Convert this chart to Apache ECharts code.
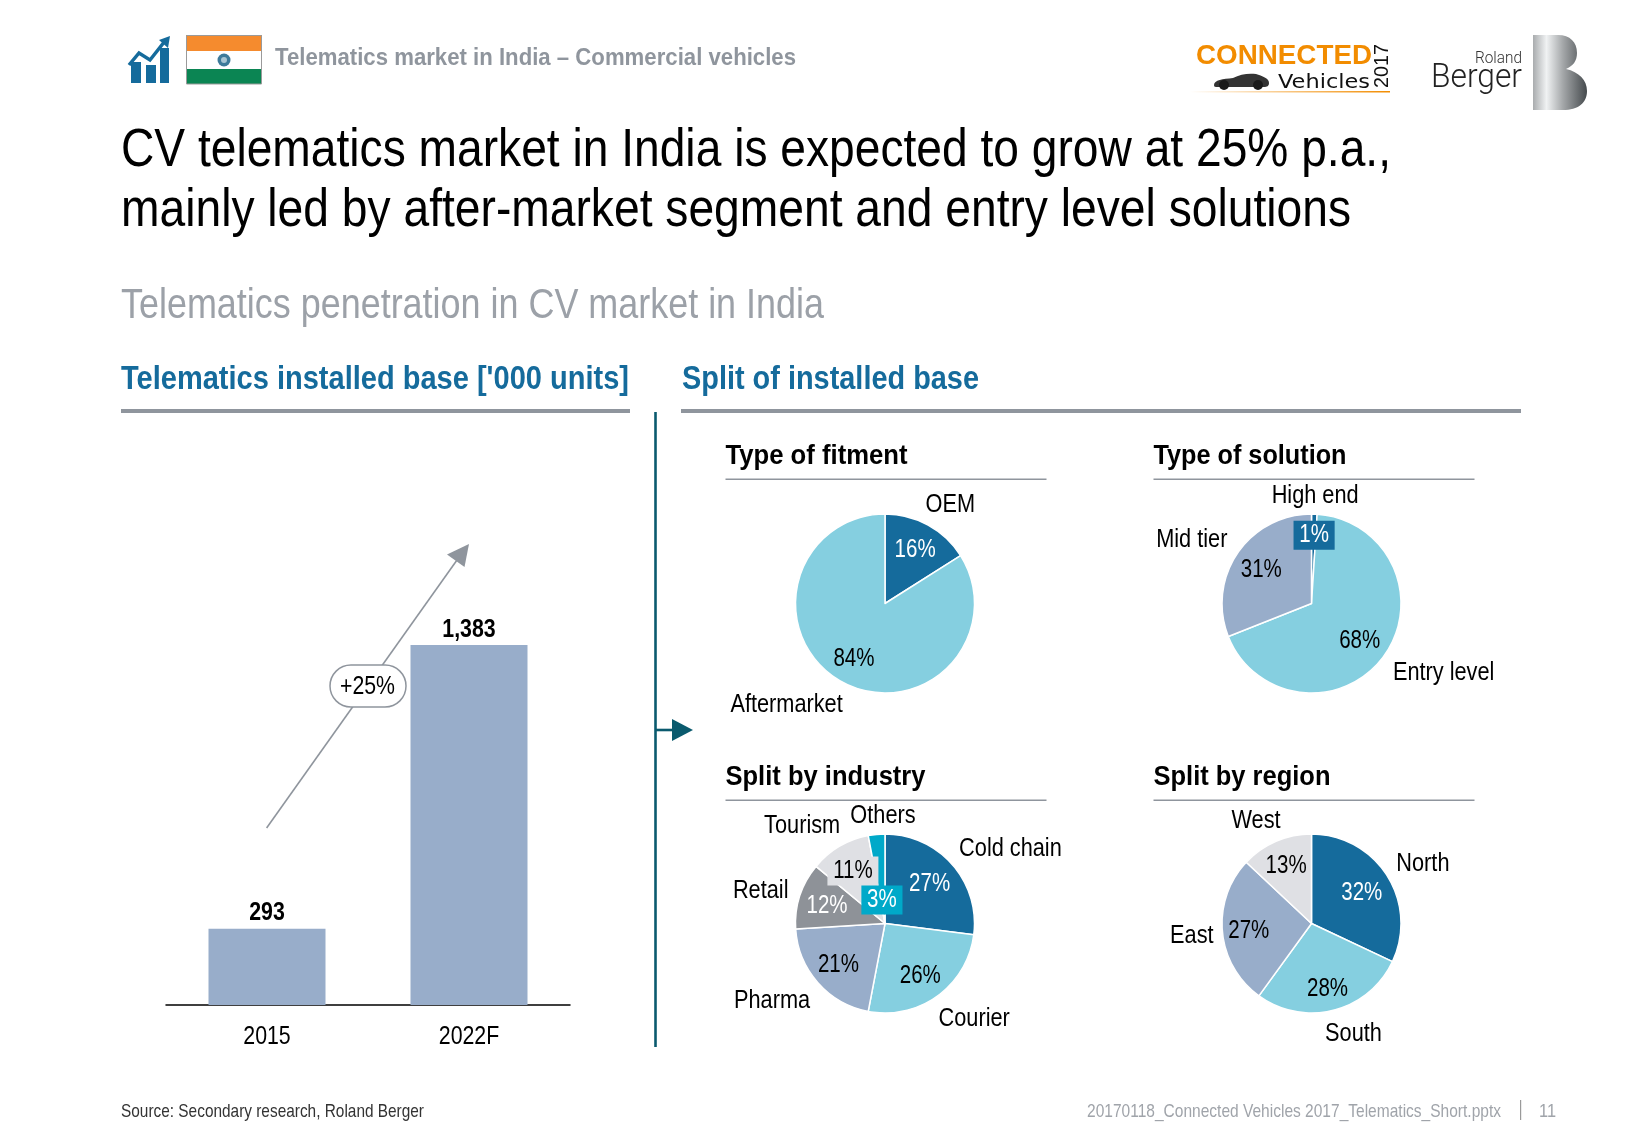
<!DOCTYPE html>
<html><head><meta charset="utf-8">
<style>html,body{margin:0;padding:0;background:#fff}#c{width:1625px;height:1125px}</style>
<script src="https://cdn.jsdelivr.net/npm/echarts@6/dist/echarts.min.js"></script>
</head><body><div id="c"></div>
<script>
// ---- data ----
const barCategories = ['2015', '2022F'];
const barValues = [293, 1383];
const fitmentNames = ['OEM', 'Aftermarket'];
const fitmentValues = [16, 84];
const solutionNames = ['High end', 'Entry level', 'Mid tier'];
const solutionValues = [1, 68, 31];
const industryNames = ['Cold chain', 'Courier', 'Pharma', 'Retail', 'Tourism', 'Others'];
const industryValues = [27, 26, 21, 12, 11, 3];
const regionNames = ['North', 'South', 'East', 'West'];
const regionValues = [32, 28, 27, 13];

// ---- style ----
const SANS = '"Liberation Sans",Arial,sans-serif';
const NARROW_RATIO = 0.82;
const BLUE='#156b9c', LIGHT='#85cfe0', STEEL='#98adca', GREY='#8e9298', PALE='#dfe0e4', TEAL='#00a9c9', DARKTEAL='#0a5a6e', RULE='#8f959d';
const S = 1625/1568;
const LABEL = 26.5, PCT = 25;

const mctx=document.createElement('canvas').getContext('2d');
const g = [];
function txt(x,y,text,size,fill,opt){opt=opt||{};
  const font=(opt.weight?opt.weight+' ':'')+size+'px '+(opt.family||SANS);
  mctx.font=font;
  const sx=opt.w?opt.w/mctx.measureText(text).width:(opt.plain?1:NARROW_RATIO);
  g.push({type:'text',name:'g',x:x,y:y,scaleX:sx,rotation:opt.rotation||0,silent:true,z:opt.z||10,style:{text:text,fill:fill,font:font,
    textAlign:opt.align||'left',textVerticalAlign:'middle'}});}
function rect(x,y,w,h,fill,extra){g.push(Object.assign({type:'rect',silent:true,shape:{x:x,y:y,width:w,height:h},style:{fill:fill}},extra||{}));}
function line(x1,y1,x2,y2,color,w){g.push({type:'line',silent:true,shape:{x1:x1,y1:y1,x2:x2,y2:y2},style:{stroke:color,lineWidth:w}});}
function poly(points,fill){g.push({type:'polygon',silent:true,shape:{points:points},style:{fill:fill}});}

echarts.graphic.registerShape('carBody',echarts.graphic.extendPath('M1214 85 C1214 80 1223 79 1233 78 C1240 74 1249 73 1256 74 C1262 76 1269 78 1269 83 C1269 86 1267 87 1264 87 L1218 87 C1215 87 1214 87 1214 85 Z',{}));
echarts.graphic.registerShape('bLogo',echarts.graphic.extendPath('M1533 35 L1558 35 C1570 35 1577 42 1577 53 C1577 61 1573 66 1566 69 C1579 72 1587 80 1587 91 C1587 103 1578 110 1563 110 L1533 110 Z',{}));

// header icon
rect(131,62,10,21,BLUE); rect(146,65,10,18,BLUE); rect(160,48,9,35,BLUE);
g.push({type:'polyline',silent:true,shape:{points:[[129,65],[139,53],[150,60],[165,41]]},style:{stroke:BLUE,lineWidth:3.5,fill:null}});
poly([[170,36],[159,40],[168,48]],BLUE);
// flag
rect(186,35,76,16,'#f58b2e'); rect(186,51,76,18,'#ffffff'); rect(186,69,76,15,'#0b8553');
g.push({type:'rect',silent:true,shape:{x:186.5,y:35.5,width:75,height:48.5},style:{fill:'none',stroke:'#9a9a9a',lineWidth:1}});
g.push({type:'circle',silent:true,shape:{cx:224,cy:60,r:6.5},style:{fill:'#3d7a9a'}});
g.push({type:'circle',silent:true,shape:{cx:224,cy:60,r:3},style:{fill:'#a9c6d4'}});

txt(275,58.5,'Telematics market in India – Commercial vehicles',24,'#8f959d',{weight:'bold',w:521});
// connected vehicles logo
txt(1196,56,'CONNECTED',28,'#f28c00',{weight:'bold',w:176});
txt(1278,83,'Vehicles',20,'#111',{family:'"DejaVu Sans",sans-serif',w:92});
txt(1382,66,'2017',20,'#111',{weight:'normal',rotation:Math.PI/2,align:'center',w:44});
g.push({type:'rect',silent:true,shape:{x:1190,y:91,width:200,height:1.5},style:{fill:new echarts.graphic.LinearGradient(0,0,1,0,[{offset:0,color:'rgba(242,140,0,0)'},{offset:1,color:'#f28c00'}])}});
g.push({type:'carBody',silent:true,style:{fill:'#333'}});
g.push({type:'circle',silent:true,shape:{cx:1224,cy:85,r:5},style:{fill:'#1a1a1a'}});
g.push({type:'circle',silent:true,shape:{cx:1258,cy:85,r:5},style:{fill:'#1a1a1a'}});
// roland berger logo
txt(1522,58.5,'Roland',17,'#333',{align:'right',family:'Roboto,sans-serif',weight:'300',w:47});
txt(1522,79,'Berger',33,'#222',{align:'right',family:'Roboto,sans-serif',weight:'300',w:91});
g.push({type:'bLogo',silent:true,style:{fill:new echarts.graphic.LinearGradient(0,0,1,0,[{offset:0,color:'#a9acae'},{offset:0.25,color:'#f0f2f3'},{offset:0.55,color:'#a5a8aa'},{offset:1,color:'#454a4d'}])}});

// headings
txt(121,151,'CV telematics market in India is expected to grow at 25% p.a.,',54,'#000',{w:1270});
txt(121,211,'mainly led by after-market segment and entry level solutions',54,'#000',{w:1230});
txt(121,306,'Telematics penetration in CV market in India',43,'#9ca1a8',{w:703});
txt(121,380,"Telematics installed base ['000 units]",32.5,BLUE,{weight:'bold',w:508});
txt(682,380,'Split of installed base',32.5,BLUE,{weight:'bold',w:297});
rect(121,409,509,4,RULE); rect(681,409,840,4,RULE);
// divider + arrow
line(655.5,412,655.5,1047,DARKTEAL,2.6);
line(656,730,678,730,DARKTEAL,2.6);
poly([[672,719],[693,730],[672,741]],DARKTEAL);
// sub titles
[[725.5,456.5,'Type of fitment',182],[1153.5,456.5,'Type of solution',193],[725.5,777.5,'Split by industry',200],[1153.5,777.5,'Split by region',177]].forEach(function(a){
  txt(a[0],a[1],a[2],28.5,'#000',{weight:'bold',w:a[3]});
  rect(a[0],a[1]+22,321,1.5,RULE);
});
// trend arrow
line(266.6,828,462,553,RULE,1.6);
poly([[469,544],[464.5,567],[447,554.5]],RULE);
g.push({type:'rect',silent:true,shape:{x:330,y:665,width:76,height:42,r:21},style:{fill:'#fff',stroke:RULE,lineWidth:1.5},z:5});
txt(367.5,687,'+25%',26,'#000',{align:'center',w:55});
// footer
txt(121,1112,'Source: Secondary research, Roland Berger',19,'#333',{w:303});
txt(1087,1112,'20170118_Connected Vehicles 2017_Telematics_Short.pptx',19,'#a0a4aa',{w:414});
rect(1520,1100,1.2,20,'#9a9a9a');
txt(1539,1112,'11',19,'#a0a4aa',{w:17});

// ---- pies ----
function pie(center,names,values,colors,pctColors,pctBg,pctPos,namePos){
  const cx=center[0],cy=center[1];
  const base={type:'pie',center:[cx,cy],radius:[0,89.5],startAngle:90,clockwise:true,silent:true,animation:false,avoidLabelOverlap:false,labelLine:{show:false}};
  const pctData=names.map(function(n,i){return {name:n,value:values[i],
    itemStyle:{color:colors[i],borderColor:'#fff',borderWidth:1.5},
    label:{color:pctColors[i],backgroundColor:pctBg[i]||'transparent',padding:pctBg[i]?[3,7,1,7]:0}};});
  const nameData=names.map(function(n,i){return {name:n,value:values[i],itemStyle:{color:'transparent',borderWidth:0}};});
  function layout(pos,dy){return function(p){const q=pos[p.dataIndex];return {x:q[0]*S,y:q[1]*S+dy,align:'center',verticalAlign:'middle',hideOverlap:false};};}
  return [
    Object.assign({},base,{data:pctData,z:3,label:{show:true,position:'inside',formatter:'{c}%',fontFamily:SANS,fontSize:PCT,lineHeight:PCT},labelLayout:layout(pctPos,1.5)}),
    Object.assign({},base,{data:nameData,z:4,label:{show:true,position:'outside',formatter:'{b}',fontFamily:SANS,fontSize:LABEL,color:'#000'},labelLayout:layout(namePos,1)})
  ];
}
const W='#fff',K='#000';
const pies=[].concat(
  pie([885,603.5],fitmentNames,fitmentValues,[BLUE,LIGHT],[W,K],[],
    [[883,529],[824,635]],[[917,486],[759,679]]),
  pie([1311.5,603.5],solutionNames,solutionValues,[BLUE,LIGHT,STEEL],[W,K,K],[BLUE],
    [[1268,515],[1312,617],[1217,549]],[[1269,477],[1393,648],[1150,520]]),
  pie([885,923.5],industryNames,industryValues,[BLUE,LIGHT,STEEL,GREY,PALE,TEAL],[W,K,K,W,K,W],[null,null,null,null,PALE,TEAL],
    [[897,852],[888,940],[809,930],[798,873],[823,839],[851,867]],[[975,818],[940,982],[745,965],[734,858],[774,796],[852,786]]),
  pie([1311.5,923.5],regionNames,regionValues,[BLUE,LIGHT,STEEL,PALE],[W,K,K,K],[],
    [[1314,860],[1281,953],[1205,897],[1241,834]],[[1373,832],[1306,996],[1150,902],[1212,791]])
);

const chart=echarts.init(document.getElementById('c'),null,{renderer:'canvas'});
chart.setOption({
  animation:false,
  backgroundColor:'#fff',
  grid:{left:166,width:404,top:484.4,height:520.6,containLabel:false},
  xAxis:{type:'category',data:barCategories,axisTick:{show:false},
    axisLine:{lineStyle:{color:'#000',width:1.5}},
    axisLabel:{fontFamily:SANS,fontSize:26,color:'#000',margin:19}},
  yAxis:{type:'value',min:0,max:2000,show:false},
  graphic:{elements:g},
  series:[{type:'bar',data:barValues,barWidth:117,silent:true,itemStyle:{color:STEEL},
    label:{show:true,position:'top',distance:2.5,fontFamily:SANS,fontSize:26,fontWeight:'bold',color:'#000',
      formatter:function(p){return p.value.toLocaleString('en-US');}}}].concat(pies)
});
// narrow the library-drawn labels to match the condensed face of the reference
(function(){
  const zr=chart.getZr(), seen=new Set();
  zr.storage.getDisplayList(true,true).forEach(function(el){
    const t=el.parent;
    if(t&&t.type==='text'&&t.name!=='g'&&!seen.has(t)){seen.add(t);t.scaleX=NARROW_RATIO;t.markRedraw();}
  });
  zr.refresh();
})();
</script></body></html>
